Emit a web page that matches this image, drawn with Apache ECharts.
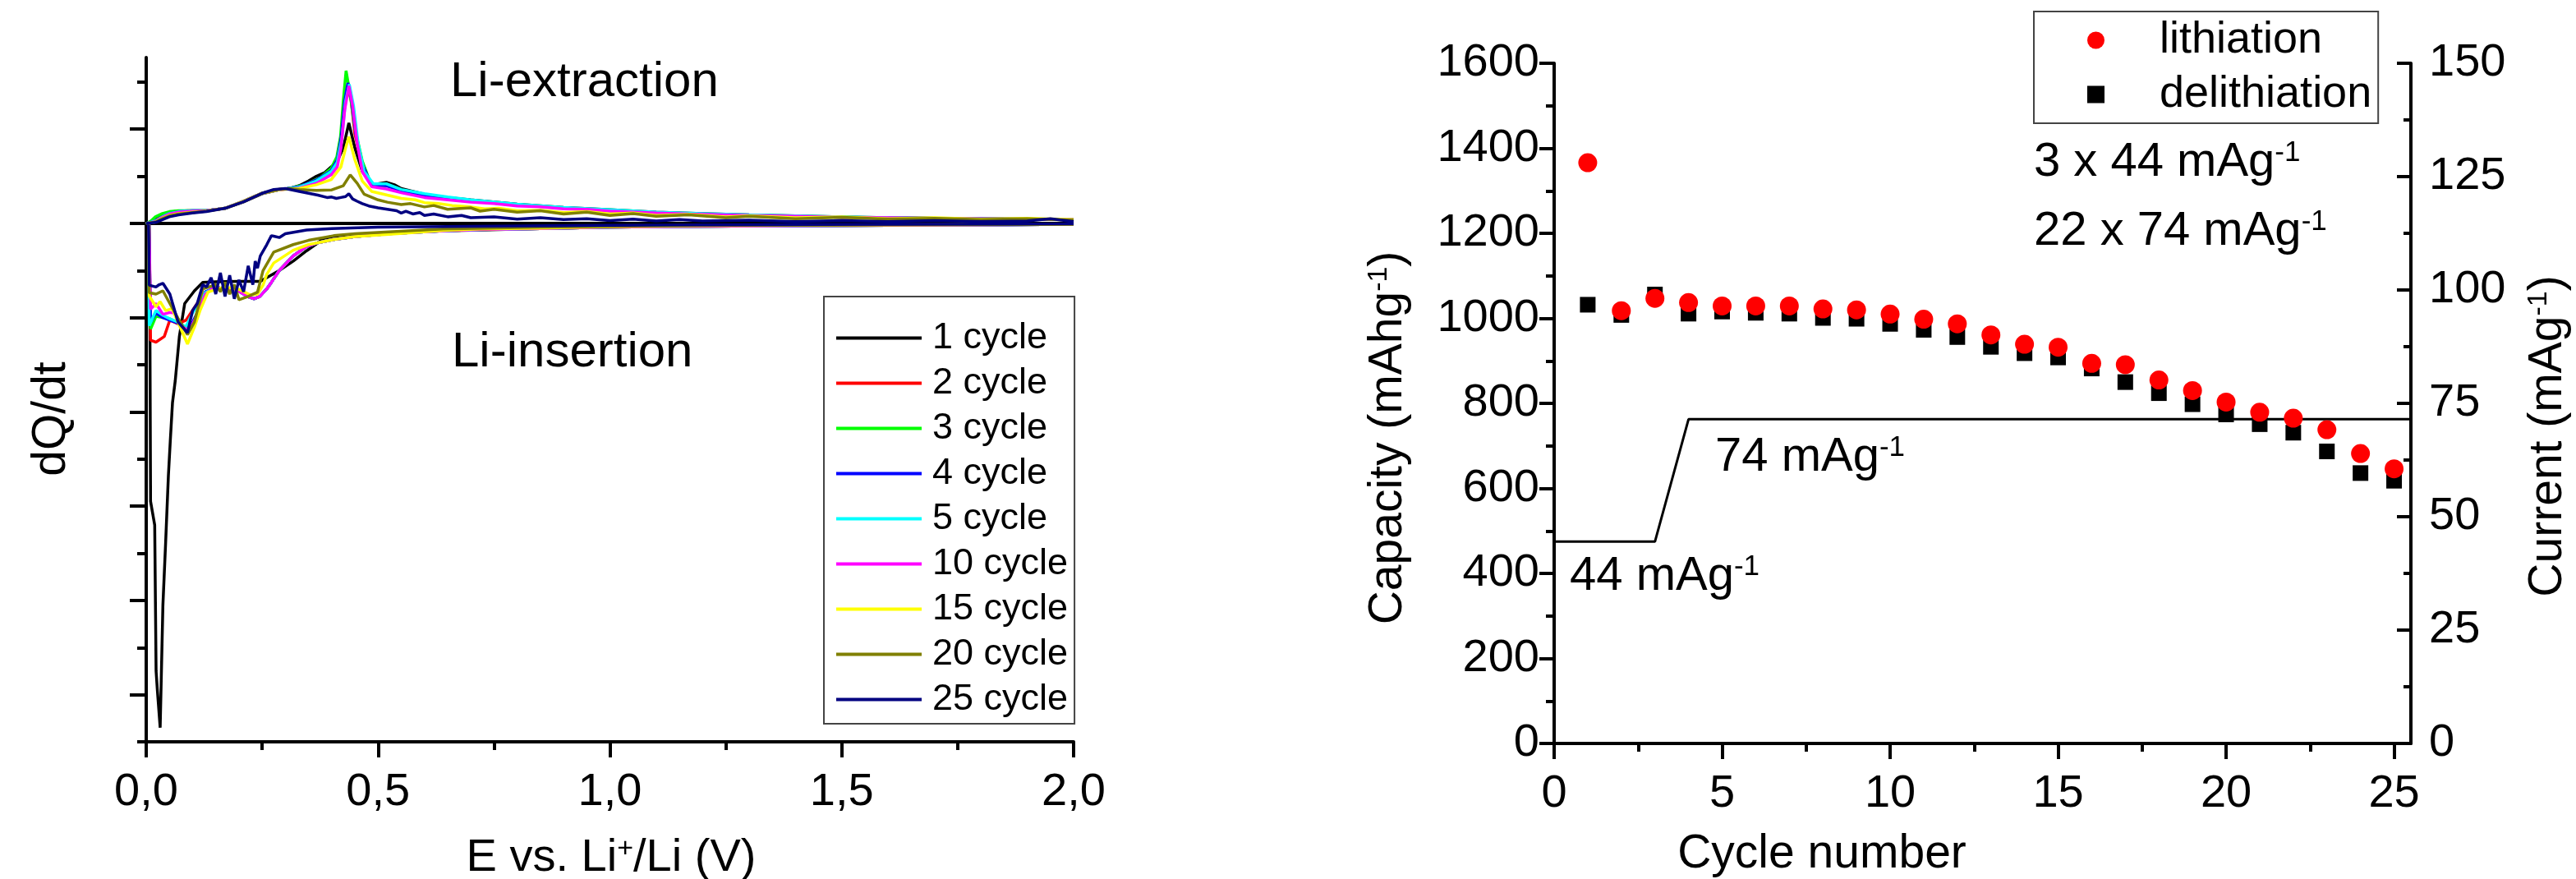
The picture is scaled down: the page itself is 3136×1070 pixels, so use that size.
<!DOCTYPE html>
<html>
<head>
<meta charset="utf-8">
<script src="https://cdn.jsdelivr.net/npm/echarts@6/dist/echarts.min.js"></script>
<style>html,body{margin:0;padding:0;background:#fff;}#chart{width:3136px;height:1070px;}</style>
</head>
<body>
<div id="chart"></div>
<script>
// ---------------- LEFT PANEL: dQ/dt vs E (pairs [E (V), dQ/dt (a.u.)]) ----------------
const cycleNames = ['1 cycle','2 cycle','3 cycle','4 cycle','5 cycle','10 cycle','15 cycle','20 cycle','25 cycle'];
const cycleColors = ['#000000','#ff0000','#00ff00','#0000ff','#00ffff','#ff00ff','#ffff00','#808000','#000080'];
const eTicks = [0, 0.5, 1.0, 1.5, 2.0];

// insertion (lithiation) branches, E decreasing
const c1Ins = [[2.0,-0.02],[1.8,-0.03],[1.6,-0.04],[1.4,-0.05],[1.2,-0.06],[1.0,-0.08],[0.85,-0.11],[0.72,-0.14],[0.64,-0.16],[0.52,-0.2],[0.45,-0.24],[0.405,-0.27],[0.382,-0.32],[0.365,-0.45],[0.346,-0.58],[0.317,-0.8],[0.287,-1.0],[0.26,-1.15],[0.246,-1.23],[0.2,-1.23],[0.15,-1.24],[0.122,-1.25],[0.104,-1.43],[0.083,-1.7],[0.0715,-2.4],[0.0626,-3.34],[0.0567,-3.8],[0.052,-4.6],[0.0478,-5.36],[0.0419,-6.77],[0.036,-8.1],[0.0301,-10.7],[0.024,-9.9],[0.0213,-9.5],[0.0183,-6.4],[0.0094,-5.9],[0.008,-2.2],[0.006,0]];
const insCommon = [[2.0,-0.02],[1.8,-0.03],[1.6,-0.04],[1.4,-0.05],[1.2,-0.06],[1.0,-0.08],[0.85,-0.11],[0.72,-0.13],[0.64,-0.16],[0.523,-0.22],[0.45,-0.28],[0.405,-0.34],[0.37,-0.41],[0.346,-0.49],[0.317,-0.69],[0.287,-1.0],[0.27,-1.25],[0.26,-1.39],[0.245,-1.55],[0.233,-1.6],[0.22,-1.56],[0.2,-1.44],[0.185,-1.38],[0.17,-1.42],[0.155,-1.36],[0.14,-1.4]];
const c2InsLow = [[0.1276,-1.46],[0.1098,-1.7],[0.0862,-2.05],[0.0685,-2.13],[0.051,-2.05],[0.039,-2.4],[0.021,-2.52],[0.0094,-2.48],[0.006,0]];
const c3InsLow = [[0.1276,-1.5],[0.1098,-1.93],[0.095,-2.24],[0.0862,-2.2],[0.07,-2.12],[0.05,-2.02],[0.039,-2.0],[0.021,-1.97],[0.0094,-2.24],[0.006,0]];
const c4InsLow = [[0.1276,-1.45],[0.1098,-1.9],[0.095,-2.2],[0.0862,-2.25],[0.07,-2.12],[0.05,-2.05],[0.036,-2.0],[0.021,-1.9],[0.0094,-2.1],[0.006,0]];
const c5InsLow = [[0.1276,-1.47],[0.1,-1.9],[0.085,-2.2],[0.07,-2.1],[0.05,-2.02],[0.036,-1.95],[0.021,-1.85],[0.0065,-2.17],[0.005,0]];
const c10InsLow = [[0.1276,-1.5],[0.1098,-1.95],[0.092,-2.28],[0.075,-2.17],[0.06,-1.9],[0.051,-1.89],[0.036,-1.93],[0.021,-1.7],[0.0094,-1.82],[0.006,0]];
const c15Ins = [[2.0,-0.02],[1.6,-0.03],[1.2,-0.05],[1.0,-0.07],[0.85,-0.1],[0.72,-0.12],[0.64,-0.15],[0.523,-0.23],[0.45,-0.28],[0.405,-0.34],[0.35,-0.45],[0.317,-0.57],[0.275,-0.84],[0.26,-1.08],[0.252,-1.31],[0.24,-1.5],[0.225,-1.52],[0.2,-1.4],[0.17,-1.35],[0.15,-1.4],[0.133,-1.46],[0.116,-1.85],[0.104,-2.2],[0.089,-2.56],[0.075,-2.24],[0.056,-1.81],[0.042,-1.85],[0.03,-1.66],[0.021,-1.77],[0.0065,-1.54],[0.005,0]];
const c20Ins = [[2.0,-0.02],[1.6,-0.03],[1.2,-0.04],[1.0,-0.06],[0.85,-0.08],[0.64,-0.12],[0.523,-0.18],[0.45,-0.22],[0.405,-0.26],[0.35,-0.36],[0.317,-0.45],[0.275,-0.61],[0.252,-1.0],[0.24,-1.46],[0.22,-1.55],[0.2,-1.62],[0.19,-1.3],[0.18,-1.5],[0.17,-1.25],[0.16,-1.45],[0.15,-1.3],[0.135,-1.35],[0.122,-1.39],[0.104,-2.09],[0.089,-2.36],[0.0685,-2.01],[0.051,-1.7],[0.036,-1.43],[0.021,-1.5],[0.0065,-1.47],[0.005,0]];
const c25Ins = [[2.0,-0.01],[1.6,-0.02],[1.2,-0.03],[1.0,-0.04],[0.7,-0.06],[0.5,-0.08],[0.4,-0.11],[0.346,-0.14],[0.3,-0.22],[0.287,-0.3],[0.275,-0.27],[0.27,-0.26],[0.26,-0.45],[0.246,-0.69],[0.24,-0.95],[0.235,-0.8],[0.23,-1.3],[0.22,-0.9],[0.21,-1.45],[0.2,-1.2],[0.19,-1.6],[0.18,-1.1],[0.17,-1.55],[0.16,-1.05],[0.15,-1.5],[0.14,-1.15],[0.13,-1.35],[0.122,-1.3],[0.11,-1.7],[0.1,-1.85],[0.089,-2.32],[0.0685,-2.09],[0.051,-1.5],[0.036,-1.27],[0.028,-1.3],[0.021,-1.35],[0.0065,-1.31],[0.005,0]];

// extraction (delithiation) branches, E increasing
const c1Ext = [[0,0],[0.015,0.03],[0.03,0.14],[0.045,0.22],[0.06,0.25],[0.09,0.27],[0.13,0.27],[0.17,0.32],[0.21,0.46],[0.25,0.63],[0.29,0.72],[0.312,0.75],[0.33,0.8],[0.35,0.9],[0.367,1.0],[0.385,1.08],[0.399,1.2],[0.411,1.3],[0.425,1.6],[0.437,2.13],[0.45,1.6],[0.466,1.1],[0.486,0.82],[0.5,0.84],[0.518,0.87],[0.535,0.82],[0.55,0.74],[0.6,0.62],[0.65,0.55],[0.7,0.5],[0.8,0.41],[0.9,0.34],[1.0,0.29],[1.1,0.24],[1.2,0.21],[1.3,0.18],[1.4,0.16],[1.5,0.14],[1.6,0.12],[1.7,0.11],[1.8,0.1],[1.9,0.09],[2.0,0.08]];
const c2Ext = [[0,0],[0.015,0.02],[0.03,0.12],[0.045,0.2],[0.06,0.24],[0.09,0.26],[0.13,0.27],[0.17,0.32],[0.21,0.47],[0.25,0.64],[0.29,0.72],[0.312,0.74],[0.33,0.76],[0.35,0.8],[0.367,0.88],[0.385,0.98],[0.399,1.1],[0.411,1.3],[0.42,1.7],[0.428,2.5],[0.435,2.9],[0.442,2.6],[0.45,1.9],[0.466,1.2],[0.486,0.8],[0.5,0.8],[0.518,0.82],[0.535,0.77],[0.55,0.7],[0.6,0.6],[0.65,0.53],[0.7,0.48],[0.8,0.39],[0.9,0.33],[1.0,0.28],[1.1,0.23],[1.2,0.2],[1.3,0.17],[1.4,0.15],[1.5,0.13],[1.6,0.12],[1.7,0.11],[1.8,0.1],[1.9,0.09],[2.0,0.08]];
const c3Ext = [[0,0],[0.01,0.05],[0.02,0.14],[0.035,0.21],[0.05,0.25],[0.07,0.27],[0.1,0.27],[0.13,0.27],[0.17,0.32],[0.21,0.47],[0.25,0.64],[0.29,0.72],[0.312,0.75],[0.344,0.83],[0.375,0.97],[0.399,1.17],[0.411,1.41],[0.419,1.84],[0.425,2.6],[0.431,3.24],[0.44,2.72],[0.45,2.02],[0.466,1.32],[0.486,0.8],[0.5,0.8],[0.518,0.8],[0.55,0.69],[0.605,0.58],[0.65,0.52],[0.684,0.49],[0.75,0.43],[0.803,0.39],[0.9,0.32],[0.96,0.28],[1.05,0.24],[1.17,0.2],[1.3,0.17],[1.4,0.15],[1.5,0.13],[1.6,0.12],[1.7,0.11],[1.8,0.1],[1.9,0.09],[2.0,0.08]];
const c4Ext = [[0,0],[0.02,0.05],[0.035,0.14],[0.05,0.21],[0.07,0.25],[0.1,0.27],[0.13,0.27],[0.17,0.32],[0.21,0.47],[0.25,0.64],[0.29,0.72],[0.33,0.78],[0.367,0.92],[0.399,1.12],[0.412,1.35],[0.42,1.8],[0.428,2.6],[0.435,2.98],[0.443,2.6],[0.452,1.9],[0.466,1.25],[0.486,0.82],[0.518,0.8],[0.55,0.7],[0.6,0.6],[0.65,0.54],[0.7,0.49],[0.8,0.4],[0.9,0.33],[1.0,0.28],[1.1,0.23],[1.2,0.2],[1.3,0.17],[1.4,0.15],[1.5,0.13],[1.6,0.12],[1.7,0.11],[1.8,0.1],[1.9,0.09],[2.0,0.08]];
const c5Ext = [[0,0],[0.02,0.05],[0.035,0.14],[0.05,0.21],[0.07,0.25],[0.1,0.27],[0.13,0.27],[0.17,0.32],[0.21,0.47],[0.25,0.64],[0.29,0.72],[0.33,0.77],[0.367,0.9],[0.399,1.1],[0.412,1.3],[0.422,1.8],[0.43,2.6],[0.438,2.95],[0.447,2.5],[0.457,1.7],[0.47,1.1],[0.49,0.84],[0.518,0.84],[0.55,0.72],[0.6,0.63],[0.65,0.56],[0.7,0.5],[0.8,0.41],[0.9,0.34],[1.0,0.29],[1.1,0.24],[1.2,0.21],[1.3,0.18],[1.4,0.16],[1.5,0.14],[1.6,0.12],[1.7,0.11],[1.8,0.1],[1.9,0.09],[2.0,0.08]];
const c10Ext = [[0,0],[0.02,0.04],[0.035,0.13],[0.05,0.2],[0.07,0.24],[0.1,0.26],[0.13,0.27],[0.17,0.32],[0.21,0.47],[0.25,0.64],[0.29,0.72],[0.33,0.75],[0.367,0.85],[0.399,1.03],[0.412,1.2],[0.42,1.6],[0.428,2.4],[0.437,2.92],[0.445,2.5],[0.455,1.7],[0.466,1.1],[0.486,0.78],[0.518,0.73],[0.55,0.65],[0.6,0.55],[0.65,0.5],[0.7,0.45],[0.75,0.42],[0.8,0.37],[0.85,0.35],[0.9,0.31],[0.95,0.3],[1.0,0.26],[1.1,0.22],[1.17,0.2],[1.3,0.17],[1.4,0.15],[1.5,0.13],[1.6,0.12],[1.7,0.11],[1.8,0.1],[1.9,0.09],[2.0,0.08]];
const c15Ext = [[0,0],[0.02,0.03],[0.035,0.11],[0.05,0.17],[0.07,0.21],[0.1,0.24],[0.13,0.26],[0.17,0.32],[0.21,0.47],[0.25,0.64],[0.29,0.72],[0.33,0.74],[0.367,0.82],[0.399,0.93],[0.42,1.2],[0.43,1.6],[0.437,1.84],[0.45,1.35],[0.466,0.9],[0.486,0.68],[0.52,0.6],[0.55,0.53],[0.58,0.5],[0.6,0.44],[0.63,0.42],[0.66,0.38],[0.7,0.35],[0.73,0.31],[0.76,0.32],[0.8,0.27],[0.85,0.28],[0.9,0.23],[0.95,0.25],[1.0,0.2],[1.05,0.22],[1.1,0.17],[1.17,0.19],[1.25,0.14],[1.3,0.16],[1.4,0.12],[1.5,0.14],[1.6,0.1],[1.7,0.12],[1.8,0.09],[1.9,0.11],[2.0,0.08]];
const c20Ext = [[0,0],[0.02,0.03],[0.035,0.1],[0.05,0.16],[0.07,0.2],[0.1,0.23],[0.13,0.26],[0.17,0.32],[0.21,0.46],[0.25,0.64],[0.29,0.73],[0.312,0.74],[0.33,0.72],[0.367,0.7],[0.4,0.71],[0.425,0.8],[0.44,1.03],[0.455,0.85],[0.47,0.62],[0.5,0.5],[0.52,0.45],[0.55,0.4],[0.57,0.42],[0.6,0.35],[0.62,0.38],[0.65,0.3],[0.7,0.33],[0.72,0.26],[0.75,0.3],[0.8,0.24],[0.85,0.27],[0.9,0.2],[0.95,0.24],[1.0,0.17],[1.05,0.21],[1.1,0.15],[1.17,0.18],[1.25,0.12],[1.3,0.15],[1.4,0.1],[1.5,0.13],[1.6,0.09],[1.7,0.11],[1.8,0.08],[1.9,0.1],[2.0,0.07]];
const c25Ext = [[0,0],[0.02,0.02],[0.035,0.08],[0.05,0.14],[0.07,0.18],[0.1,0.22],[0.13,0.25],[0.17,0.32],[0.21,0.46],[0.25,0.64],[0.275,0.72],[0.3,0.74],[0.33,0.68],[0.35,0.64],[0.37,0.6],[0.39,0.55],[0.4,0.56],[0.41,0.53],[0.42,0.55],[0.43,0.57],[0.437,0.63],[0.445,0.52],[0.455,0.47],[0.466,0.42],[0.48,0.37],[0.5,0.33],[0.52,0.3],[0.54,0.27],[0.55,0.22],[0.56,0.26],[0.575,0.2],[0.59,0.23],[0.6,0.17],[0.62,0.2],[0.65,0.14],[0.68,0.17],[0.7,0.12],[0.75,0.14],[0.8,0.09],[0.85,0.12],[0.9,0.08],[0.95,0.1],[1.0,0.06],[1.05,0.09],[1.1,0.05],[1.15,0.08],[1.2,0.05],[1.3,0.07],[1.4,0.04],[1.5,0.06],[1.6,0.04],[1.7,0.06],[1.8,0.04],[1.9,0.05],[1.95,0.1],[2.0,0.04]];

// ---------------- RIGHT PANEL: capacity vs cycle ----------------
const cycles = [1,2,3,4,5,6,7,8,9,10,11,12,13,14,15,16,17,18,19,20,21,22,23,24,25];
const lithiation = [1366,1018,1047,1037,1029,1029,1029,1022,1020,1010,998,987,961,939,932,894,891,855,830,803,779,765,738,682,646];
const delithiation = [1032,1008,1056,1011,1016,1013,1011,1001,999,987,973,956,933,918,908,882,850,824,798,774,751,731,687,636,618];
const currentCycle = [0, 3, 4, 25.5];
const currentValue = [44.5, 44.5, 71.5, 71.5];
const capTicks = [0,200,400,600,800,1000,1200,1400,1600];
const curTicks = [0,25,50,75,100,125,150];
const cycTicks = [0,5,10,15,20,25];
const cycMinorTicks = [2.5,7.5,12.5,17.5,22.5];

// ---------------- build ----------------
const FONT = '"Liberation Sans", Arial, sans-serif';
const BLACK = '#000';
const curveData = [
  c1Ins.concat(c1Ext),
  insCommon.concat(c2InsLow, c2Ext),
  insCommon.concat(c3InsLow, c3Ext),
  insCommon.concat(c4InsLow, c4Ext),
  insCommon.concat(c5InsLow, c5Ext),
  insCommon.concat(c10InsLow, c10Ext),
  c15Ins.concat(c15Ext),
  c20Ins.concat(c20Ext),
  c25Ins.concat(c25Ext)
];

const chart = echarts.init(document.getElementById('chart'), null, {renderer: 'canvas'});

function axisLineStyle() { return {show: true, onZero: false, lineStyle: {color: BLACK, width: 4}}; }
function txt(x, y, text, size, opts) {
  opts = opts || {};
  return {
    type: 'text', x: x, y: y, rotation: opts.rotation || 0, silent: true,
    style: {
      text: text, fill: BLACK, fontFamily: FONT, fontSize: size,
      align: opts.align || 'left', verticalAlign: 'middle',
      textAlign: opts.align || 'left', textVerticalAlign: 'middle',
      rich: {
        a: {fontSize: size, fontFamily: FONT, fill: BLACK},
        s: {fontSize: Math.round(size * 0.6), fontFamily: FONT, fill: BLACK, verticalAlign: 'top'}
      }
    }
  };
}

const series = [];
series.push({
  name: 'zero', type: 'line', xAxisIndex: 0, yAxisIndex: 0, symbol: 'none', silent: true,
  lineStyle: {color: BLACK, width: 4}, data: [[0, 0], [2, 0]], z: 1
});
curveData.forEach((d, i) => {
  series.push({
    name: cycleNames[i], type: 'line', xAxisIndex: 0, yAxisIndex: 0,
    symbol: 'none', showSymbol: false, smooth: false,
    color: cycleColors[i], itemStyle: {color: cycleColors[i]},
    lineStyle: {color: cycleColors[i], width: 3.5},
    data: d, z: 2 + i
  });
});
series.push({
  name: 'current', type: 'line', xAxisIndex: 1, yAxisIndex: 3, symbol: 'none',
  lineStyle: {color: BLACK, width: 3},
  data: currentCycle.map((c, i) => [c, currentValue[i]]), z: 2
});
series.push({
  name: 'delithiation', type: 'scatter', xAxisIndex: 1, yAxisIndex: 2,
  symbol: 'rect', symbolSize: 19, itemStyle: {color: BLACK, opacity: 1}, color: BLACK,
  data: cycles.map((c, i) => [c, delithiation[i]]), z: 3
});
series.push({
  name: 'lithiation', type: 'scatter', xAxisIndex: 1, yAxisIndex: 2,
  symbol: 'circle', symbolSize: 23, itemStyle: {color: '#ff0000', opacity: 1}, color: '#ff0000',
  data: cycles.map((c, i) => [c, lithiation[i]]), z: 4
});

const labelStyle = {color: BLACK, fontFamily: FONT, fontSize: 56};

const option = {
  animation: false,
  backgroundColor: '#ffffff',
  grid: [
    {left: 178, top: 70, width: 1129, height: 833, containLabel: false, outerBoundsMode: 'none'},
    {left: 1892, top: 77, width: 1043, height: 828, containLabel: false, outerBoundsMode: 'none'}
  ],
  xAxis: [
    {
      type: 'value', gridIndex: 0, min: 0, max: 2, interval: 0.5, position: 'bottom',
      axisLine: axisLineStyle(),
      axisTick: {show: true, inside: false, length: 19, lineStyle: {color: BLACK, width: 4}},
      minorTick: {show: true, splitNumber: 2, length: 10, lineStyle: {color: BLACK, width: 4}},
      axisLabel: Object.assign({margin: 34, formatter: v => v.toFixed(1).replace('.', ',')}, labelStyle),
      splitLine: {show: false}, minorSplitLine: {show: false}
    },
    {
      type: 'value', gridIndex: 1, min: 0, max: 25.5, position: 'bottom',
      axisLine: axisLineStyle(),
      axisTick: {show: true, inside: false, length: 19, customValues: cycTicks, lineStyle: {color: BLACK, width: 4}},
      axisLabel: Object.assign({margin: 34, customValues: cycTicks, formatter: v => String(v)}, labelStyle),
      splitLine: {show: false}
    },
    {
      type: 'value', gridIndex: 1, min: 0, max: 25.5, position: 'bottom',
      axisLine: {show: false, onZero: false},
      axisTick: {show: true, inside: false, length: 10, customValues: cycMinorTicks, lineStyle: {color: BLACK, width: 4}},
      axisLabel: {show: false}, splitLine: {show: false}
    }
  ],
  yAxis: [
    {
      type: 'value', gridIndex: 0, min: -11, max: 3.52, position: 'left',
      axisLine: axisLineStyle(),
      axisTick: {show: true, inside: false, length: 20, customValues: [-10,-8,-6,-4,-2,0,2], lineStyle: {color: BLACK, width: 4}},
      axisLabel: {show: false}, splitLine: {show: false}
    },
    {
      type: 'value', gridIndex: 0, min: -11, max: 3.52, position: 'left',
      axisLine: {show: false, onZero: false},
      axisTick: {show: true, inside: false, length: 11, customValues: [-11,-9,-7,-5,-3,-1,1,3], lineStyle: {color: BLACK, width: 4}},
      axisLabel: {show: false}, splitLine: {show: false}
    },
    {
      type: 'value', gridIndex: 1, min: 0, max: 1600, interval: 200, position: 'left',
      axisLine: axisLineStyle(),
      axisTick: {show: true, inside: false, length: 18, lineStyle: {color: BLACK, width: 4}},
      minorTick: {show: true, splitNumber: 2, length: 10, lineStyle: {color: BLACK, width: 4}},
      axisLabel: Object.assign({margin: 18, customValues: capTicks, formatter: v => String(v)}, labelStyle),
      splitLine: {show: false}, minorSplitLine: {show: false}
    },
    {
      type: 'value', gridIndex: 1, min: 0, max: 150, interval: 25, position: 'right',
      axisLine: axisLineStyle(),
      axisTick: {show: true, inside: true, length: 17, lineStyle: {color: BLACK, width: 4}},
      minorTick: {show: true, splitNumber: 2, length: 9, lineStyle: {color: BLACK, width: 4}},
      axisLabel: Object.assign({margin: 22, customValues: curTicks, formatter: v => String(v)}, labelStyle),
      splitLine: {show: false}, minorSplitLine: {show: false}
    }
  ],
  legend: [
    {
      data: cycleNames.map(n => ({name: n, icon: 'rect'})), orient: 'vertical', left: 1003, top: 361,
      itemWidth: 104, itemHeight: 4, itemGap: 0,
      textStyle: {color: BLACK, fontFamily: FONT, fontSize: 45, lineHeight: 55, padding: [0, 0, 0, 8]},
      borderColor: '#444', borderWidth: 2, padding: [23, 8, 2, 15],
      selectedMode: false
    },
    {
      data: ['lithiation', 'delithiation'], orient: 'vertical', left: 2476, top: 14,
      itemWidth: 21, itemHeight: 21, itemGap: 0,
      itemStyle: {opacity: 1},
      textStyle: {color: BLACK, fontFamily: FONT, fontSize: 54, lineHeight: 66, padding: [0, 0, 0, 62]},
      borderColor: '#444', borderWidth: 2, padding: [2, 8, 2, 65],
      selectedMode: false
    }
  ],
  graphic: [
    txt(548, 100, 'Li-extraction', 60),
    txt(550, 429, 'Li-insertion', 60),
    txt(63, 510, 'dQ/dt', 57, {align: 'center', rotation: Math.PI / 2}),
    txt(744, 1045, '{a|E vs. Li}{s|+}{a|/Li (V)}', 56, {align: 'center'}),
    txt(1690, 533, '{a|Capacity (mAhg}{s|-1}{a|)}', 57, {align: 'center', rotation: Math.PI / 2}),
    txt(3102, 531, '{a|Current (mAg}{s|-1}{a|)}', 57, {align: 'center', rotation: Math.PI / 2}),
    txt(2218, 1040, 'Cycle number', 57, {align: 'center'}),
    txt(2088, 557, '{a|74 mAg}{s|-1}', 58),
    txt(1911, 702, '{a|44 mAg}{s|-1}', 58),
    txt(2476, 198, '{a|3 x 44 mAg}{s|-1}', 58),
    txt(2476, 282, '{a|22 x 74 mAg}{s|-1}', 58)
  ],
  series: series
};
chart.setOption(option);
</script>
</body>
</html>
